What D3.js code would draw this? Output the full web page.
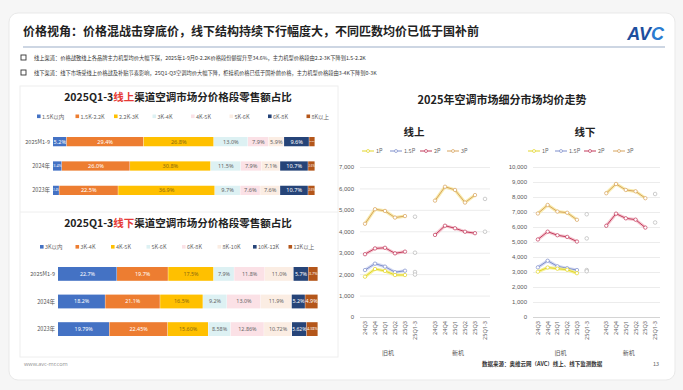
<!DOCTYPE html>
<html><head><meta charset="utf-8">
<script src="https://cdn.jsdelivr.net/npm/d3@7"></script>
<style>
html,body{margin:0;padding:0;background:#f6f6f6;}
svg{display:block;font-family:"Noto Sans CJK SC","Noto Sans",sans-serif;}
</style></head>
<body>
<svg id="c" width="683" height="390"></svg>
<script>
// ---------- DATA ----------
const pageTitle = "价格视角：价格混战击穿底价，线下结构持续下行幅度大，不同匹数均价已低于国补前";
const bullets = [
  "线上渠道：价格战致线上各品牌主力机型均价大幅下探，2025年1-9月0-2.2K价格段份额提升至34.6%，主力机型价格段由2.2-3K下降到1.5-2.2K",
  "线下渠道：线下市场受线上价格战及补贴节奏影响，25Q1-Q3空调均价大幅下降，柜挂机价格已低于国补前价格，主力机型价格段由3-4K下降到0-3K"
];
const rowLabels = ["2025M1-9", "2024年", "2023年"];

const onlineSegs = ["1.5K以内","1.5K-2.2K","2.2K-3K","3K-4K","4K-5K","5K-6K","6K-8K","8K以上"];
const online2025 = [5.2, 29.4, 26.8, 13.0, 7.9, 5.9, 9.6, 2.2];
const online2024 = [3.4, 26.0, 30.8, 11.5, 7.9, 7.1, 10.7, 2.6];
const online2023 = [2.4, 22.5, 36.9, 9.7, 7.6, 7.6, 10.7, 2.6];
const onlineRowDecimals = [1, 1, 1];

const offlineSegs = ["3K以内","3K-4K","4K-5K","5K-6K","6K-8K","8K-10K","10K-12K","12K以上"];
const offline2025 = [22.7, 19.7, 17.5, 7.9, 11.8, 11.0, 5.7, 3.7];
const offline2024 = [18.2, 21.1, 16.5, 9.2, 13.0, 11.9, 5.2, 4.9];
const offline2023 = [19.79, 22.45, 15.60, 8.58, 12.86, 10.72, 5.62, 4.38];
const offlineRowDecimals = [1, 1, 2];

const quarters = ["24Q3","24Q4","25Q1","25Q2","25Q3","25Q1-3"];
const groups = ["旧机","新机"];
const seriesNames = ["1P","1.5P","2P","3P"];
const onlineTicks = [0, 1000, 2000, 3000, 4000, 5000, 6000, 7000];
const offlineTicks = [0, 1000, 2000, 3000, 4000, 5000, 6000, 7000, 8000, 9000, 10000];
// online (线上)
const onOld1P  = [1880, 2240, 2150, 1960, 1960, 1980];
const onOld15P = [2190, 2490, 2350, 2090, 2160, 2100];
const onOld2P  = [2930, 3200, 3230, 2970, 3050, 3000];
const onOld3P  = [4350, 5030, 4950, 4640, 4710, 4680];
const onNew2P  = [3830, 4260, 4140, 3980, 3910, 3980];
const onNew3P  = [5430, 6080, 5930, 5340, 5690, 5510];
// offline (线下)
const offOld1P  = [3020, 3300, 3220, 3150, 2920, 3050];
const offOld15P = [3310, 3750, 3380, 3250, 3130, 3130];
const offOld2P  = [5170, 5690, 5450, 5340, 5030, 5240];
const offOld3P  = [6900, 7470, 7030, 6950, 6480, 6850];
const offNew2P  = [6080, 6890, 6580, 6490, 5960, 6300];
const offNew3P  = [8250, 8870, 8470, 8380, 7920, 8200];

// ---------- STYLE ----------
const segColors = ["#4472C4","#ED7D31","#FFC000","#DDF1F3","#FBE1E6","#FBEDE3","#264478","#B4561A"];
const segText   = ["#fff","#fff","#8a6a10","#666","#666","#666","#fff","#fff"];
const lineColors = {"1P":"#E3D52A","1.5P":"#7F8FCC","2P":"#C23A5B","3P":"#D7A45E"};
const glowColors = {"1P":"#F3EE7A","1.5P":"#C6CDEE","2P":"#F1B6C2","3P":"#F6E38F"};

const svg = d3.select("#c");

svg.append("rect").attr("x",9).attr("y",13).attr("width",666).attr("height",367)
  .attr("rx",9).attr("fill","#fff").attr("stroke","#e9e9e9");

svg.append("text").attr("x",23).attr("y",36).attr("font-size",12).attr("font-weight","bold")
  .attr("fill","#222").text(pageTitle);
const logo = svg.append("text").attr("x",664).attr("y",40).attr("text-anchor","end")
  .attr("font-family","Liberation Sans, Arial, sans-serif").attr("font-size",18)
  .attr("font-weight","bold").attr("font-style","italic");
logo.append("tspan").attr("fill","#1D4E9E").text("AV");
logo.append("tspan").attr("fill","#2A7BD0").text("C");
svg.append("line").attr("x1",23).attr("x2",665).attr("y1",47).attr("y2",47)
  .attr("stroke","#CDD6E3").attr("stroke-width",2);

bullets.forEach((b,i)=>{
  const y = 60 + i*15;
  svg.append("rect").attr("x",21).attr("y",y-5).attr("width",5).attr("height",5)
    .attr("fill","none").attr("stroke","#333").attr("stroke-width",0.9);
  svg.append("text").attr("x",34).attr("y",y).attr("font-size",5.25).attr("fill","#333").text(b);
});

svg.append("rect").attr("x",20).attr("y",86).attr("width",318).attr("height",271)
  .attr("fill","#fff").attr("stroke","#eeeeee");
svg.append("line").attr("x1",20).attr("x2",338).attr("y1",212).attr("y2",212).attr("stroke","#eeeeee");

// ---------- STACKED BAR CHARTS ----------
function stackedChart(opt){
  const g = svg.append("g");
  const t = g.append("text").attr("x",opt.cx).attr("y",opt.titleY).attr("text-anchor","middle")
    .attr("font-size",10.5).attr("font-weight","bold").attr("fill","#222");
  t.append("tspan").text("2025Q1-3");
  t.append("tspan").attr("fill","#E53935").text(opt.red);
  t.append("tspan").text("渠道空调市场分价格段零售额占比");
  opt.segs.forEach((s,i)=>{
    const lx = opt.legX0 + i*opt.legStep;
    g.append("rect").attr("x",lx).attr("y",opt.legY-4).attr("width",3.6).attr("height",3.6).attr("fill",segColors[i]);
    g.append("text").attr("x",lx+5).attr("y",opt.legY).attr("font-size",5.5).attr("fill","#666").text(s);
  });
  const x = d3.scaleLinear().domain([0,100]).range([opt.x0,opt.x1]);
  const y = d3.scaleBand().domain(rowLabels).range([opt.y0,opt.y1]).paddingInner(opt.pad).paddingOuter(0);
  const keys = d3.range(opt.segs.length);
  const tbl = opt.rows.map(r=>{const o={}; r.forEach((v,i)=>o[i]=v); return o;});
  const st = d3.stack().keys(keys)(tbl);
  st.forEach((layer,k)=>{
    layer.forEach((d,ri)=>{
      const xa = x(d[0]), xb = x(d[1]);
      g.append("rect").attr("x",xa).attr("y",y(rowLabels[ri])).attr("width",Math.max(0,xb-xa-0.4))
        .attr("height",y.bandwidth()).attr("fill",segColors[k]);
      const v = opt.rows[ri][k];
      const lab = v.toFixed(opt.dec[ri])+"%";
      const fs = Math.min(opt.labSize, (xb-xa-0.6)/(lab.length*0.56));
      g.append("text").attr("x",(xa+xb)/2).attr("y",y(rowLabels[ri])+y.bandwidth()/2+fs*0.36)
        .attr("text-anchor","middle").attr("font-size",fs).attr("fill",segText[k])
        .attr("font-family","Noto Sans, sans-serif").text(lab);
    });
  });
  rowLabels.forEach(r=>{
    g.append("text").attr("x",opt.x0-3).attr("y",y(r)+y.bandwidth()/2+2).attr("text-anchor","end")
      .attr("font-size",5.5).attr("fill","#555").text(r);
  });
}
stackedChart({cx:178,titleY:101,red:"线上",segs:onlineSegs,legX0:37,legStep:38.5,legY:118.5,
  x0:53,x1:315,y0:137,y1:195,pad:0.62,rows:[online2025,online2024,online2023],dec:onlineRowDecimals,labSize:5.6});
stackedChart({cx:178,titleY:227,red:"线下",segs:offlineSegs,legX0:40,legStep:35.5,legY:249,
  x0:58,x1:318,y0:267,y1:336,pad:0.5,rows:[offline2025,offline2024,offline2023],dec:offlineRowDecimals,labSize:5.4});

// ---------- LINE CHARTS ----------
svg.append("text").attr("x",502).attr("y",104).attr("text-anchor","middle").attr("font-size",11)
  .attr("font-weight","bold").attr("fill","#222").text("2025年空调市场细分市场均价走势");

function lineChart(opt){
  const g = svg.append("g");
  g.append("text").attr("x",opt.subX).attr("y",136).attr("text-anchor","middle").attr("font-size",10.5)
    .attr("font-weight","bold").attr("fill","#222").text(opt.sub);
  seriesNames.forEach((s,i)=>{
    const lx = opt.legX[i];
    g.append("line").attr("x1",lx).attr("x2",lx+12).attr("y1",151).attr("y2",151)
      .attr("stroke",lineColors[s]).attr("stroke-width",1);
    g.append("circle").attr("cx",lx+6).attr("cy",151).attr("r",1.5).attr("fill","#fff")
      .attr("stroke",lineColors[s]).attr("stroke-width",0.7);
    g.append("text").attr("x",lx+14).attr("y",153).attr("font-size",5.5).attr("fill","#666").text(s);
  });
  const y = d3.scaleLinear().domain([0,opt.max]).range([317,167]);
  const x = d3.scaleBand().domain(d3.range(13)).range([opt.x0,opt.x1]);
  const cx = (gi,qi)=> x(gi*7+qi) + x.bandwidth()/2;
  const fmt = d3.format(",");
  const ag = g.append("g").attr("transform",`translate(${opt.x0},0)`)
    .call(d3.axisLeft(y).tickValues(opt.ticks).tickSize(-(opt.x1-opt.x0)).tickPadding(6).tickFormat(fmt));
  ag.select(".domain").remove();
  ag.selectAll(".tick line").attr("stroke",(d)=> d===0 ? "#d4d4d4" : "#ececec");
  ag.selectAll(".tick text").attr("fill","#595959").style("font-size","6px");
  groups.forEach((gn,gi)=>{
    quarters.forEach((q,qi)=>{
      g.append("text").attr("transform",`translate(${cx(gi,qi)+2},321) rotate(-90)`)
        .attr("text-anchor","end").attr("font-size",5.6).attr("fill","#666")
        .attr("font-family","Noto Sans, sans-serif").text(q);
    });
    g.append("text").attr("x",(cx(gi,0)+cx(gi,4))/2 + 3).attr("y",355).attr("text-anchor","middle")
      .attr("font-size",6).attr("fill","#555").text(gn);
  });
  opt.series.forEach(s=>{
    const pts = s.vals.slice(0,5).map((v,qi)=>[cx(s.g,qi),y(v)]);
    const ln = d3.line();
    g.append("path").attr("d",ln(pts)).attr("fill","none").attr("stroke",glowColors[s.name])
      .attr("stroke-width",3.2).attr("stroke-opacity",0.75).attr("stroke-linejoin","round");
    g.append("path").attr("d",ln(pts)).attr("fill","none").attr("stroke",lineColors[s.name])
      .attr("stroke-width",1).attr("stroke-linejoin","round");
    pts.forEach(p=>{
      g.append("circle").attr("cx",p[0]).attr("cy",p[1]).attr("r",1.7).attr("fill","#fff")
        .attr("stroke",lineColors[s.name]).attr("stroke-width",0.7);
    });
    g.append("circle").attr("cx",cx(s.g,5)).attr("cy",y(s.vals[5])).attr("r",1.8).attr("fill","#fff")
      .attr("stroke","#b8b8b8").attr("stroke-width",0.7);
  });
}
lineChart({sub:"线上",subX:414,max:7000,ticks:onlineTicks,x0:360,x1:490,legX:[362,390,420,447],
  series:[
    {name:"3P",g:0,vals:onOld3P},{name:"2P",g:0,vals:onOld2P},{name:"1.5P",g:0,vals:onOld15P},{name:"1P",g:0,vals:onOld1P},
    {name:"3P",g:1,vals:onNew3P},{name:"2P",g:1,vals:onNew2P}
  ]});
lineChart({sub:"线下",subX:585,max:10000,ticks:offlineTicks,x0:533,x1:660,legX:[528,555,584,613],
  series:[
    {name:"3P",g:0,vals:offOld3P},{name:"2P",g:0,vals:offOld2P},{name:"1.5P",g:0,vals:offOld15P},{name:"1P",g:0,vals:offOld1P},
    {name:"3P",g:1,vals:offNew3P},{name:"2P",g:1,vals:offNew2P}
  ]});

svg.append("text").attr("x",24).attr("y",366).attr("font-size",5.5).attr("fill","#999")
  .attr("font-family","Noto Sans, sans-serif").text("www.avc-mr.com");
svg.append("text").attr("x",482).attr("y",366).attr("font-size",5.5).attr("fill","#333").attr("font-weight","bold")
  .text("数据来源：奥维云网（AVC）线上、线下监测数据");
svg.append("text").attr("x",656).attr("y",366).attr("text-anchor","middle").attr("font-size",5.5).attr("fill","#666").text("13");
</script>
</body></html>
